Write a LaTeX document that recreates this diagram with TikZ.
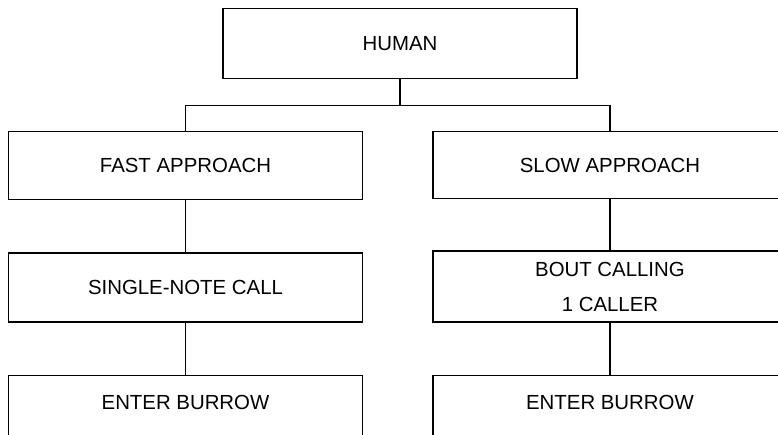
\documentclass[tikz,border=0pt]{standalone}
\usepackage{fontspec}
\setmainfont{Liberation Sans}
\usetikzlibrary{calc,positioning}

\begin{document}
\begin{tikzpicture}[line width=0.6pt,stage/.style={draw,line width=0.6pt,minimum width=6.22cm,inner sep=0pt,text centered,font=\fontsize{10.2}{17.5}\selectfont}]

  % Frame
  \useasboundingbox (0,0) rectangle (13.672,-7.644);
  \clip (0,0) rectangle (13.672,-7.644);

  % Top
  \path (7.029,-0.141) node[anchor=north,stage,minimum height=1.23cm] (human) {HUMAN};

  % Approaches
  \path (human.south) +(-3.769,-0.914) node[anchor=north,stage,minimum height=1.195cm] (fast-approach) {FAST APPROACH};
  \path (human.south) +(3.690,-0.914) node[anchor=north,stage,minimum height=1.178cm] (slow-approach) {SLOW APPROACH};

  % Calls
  \path (fast-approach.south) +(0.0,-0.914) node[anchor=north,stage,minimum height=1.213cm] (single-note) {SINGLE-NOTE CALL};
  \path (slow-approach.south) +(0.0,-0.896) node[anchor=north,stage,minimum height=1.248cm,align=center] (bout-calling) {BOUT CALLING\\1 CALLER};

  % Burrows
  \path (single-note.south) +(0.0,-0.914) node[anchor=north,stage,minimum height=1.23cm,text depth=8pt] (fast-burrow) {ENTER BURROW};
  \path (bout-calling.south) +(0.0,-0.914) node[anchor=north,stage,minimum height=1.23cm,text depth=8pt] (slow-burrow) {ENTER BURROW};

  % Links
  \draw (human.south) -- +(0.0,-0.457) coordinate (split);
  \draw (split) -| (fast-approach.north);
  \draw (split) -| (slow-approach.north);
  \draw (fast-approach.south) -- (single-note.north);
  \draw (single-note.south) -- (fast-burrow.north);
  \draw (slow-approach.south) -- (bout-calling.north);
  \draw (bout-calling.south) -- (slow-burrow.north);

\end{tikzpicture}
\end{document}
